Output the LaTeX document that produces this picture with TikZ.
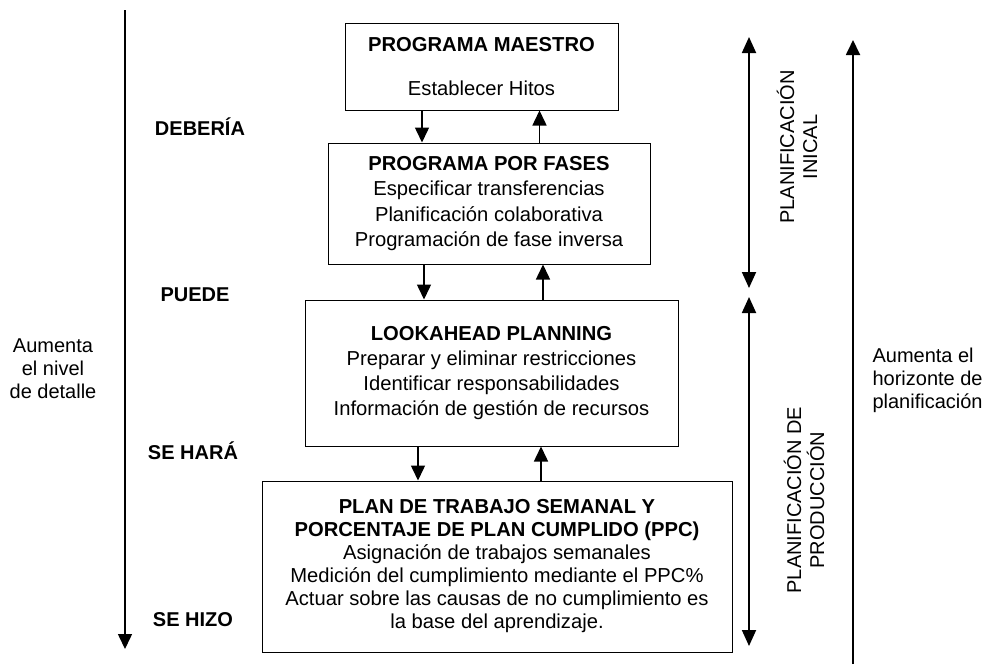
\documentclass[tikz,border=0pt]{standalone}
\usepackage{fontspec}
\setmainfont{Liberation Sans}
\usetikzlibrary{arrows.meta}
\tikzset{
  box/.style={draw=black, line width=1pt, align=center, inner sep=0pt, font=\fontsize{20.2}{24}\selectfont},
  arr/.style={line width=1.5pt, -{Triangle[width=14pt,length=15pt]}},
  darr/.style={line width=1.8pt, {Triangle[width=14pt,length=16pt]}-{Triangle[width=14pt,length=16pt]}},
  lbl/.style={font=\fontsize{20}{23}\selectfont\bfseries},
  txt/.style={font=\fontsize{20}{23}\selectfont, align=center},
}
\begin{document}
\begin{tikzpicture}[x=1pt,y=-1pt]
\useasboundingbox (0,0) rectangle (984,667);
% boxes
\node[box, minimum width=273pt, minimum height=87pt] (b1) at (481.5,66.5)
  {\textbf{PROGRAMA MAESTRO}\\[20pt]Establecer Hitos};
\node[box, minimum width=322pt, minimum height=121pt, font=\fontsize{20.2}{25.5}\selectfont] (b2) at (489,203.5)
  {\textbf{PROGRAMA POR FASES}\\Especificar transferencias\\Planificación colaborativa\\Programación de fase inversa};
\node[box, minimum width=373pt, minimum height=146pt, font=\fontsize{20.2}{25.2}\selectfont] (b3) at (491.5,373)
  {\textbf{LOOKAHEAD PLANNING}\\Preparar y eliminar restricciones\\Identificar responsabilidades\\Información de gestión de recursos};
\node[box, minimum width=470pt, minimum height=171pt, font=\fontsize{20.2}{23}\selectfont] (b4) at (497,566.5)
  {\textbf{PLAN DE TRABAJO SEMANAL Y}\\\textbf{PORCENTAJE DE PLAN CUMPLIDO (PPC)}\\Asignación de trabajos semanales\\Medición del cumplimiento mediante el PPC\%\\Actuar sobre las causas de no cumplimiento es\\la base del aprendizaje.};
% connectors between boxes
\coordinate (d1) at (422,0);
\coordinate (u1) at (539.5,0);
\coordinate (d2) at (424,0);
\coordinate (u2) at (543,0);
\coordinate (d3) at (418,0);
\coordinate (u3) at (541,0);
\draw[arr] (b1.south -| d1) -- (b2.north -| d1);
\draw[arr] (b2.north -| u1) -- (b1.south -| u1);
\draw[arr] (b2.south -| d2) -- (b3.north -| d2);
\draw[arr] (b3.north -| u2) -- (b2.south -| u2);
\draw[arr] (b3.south -| d3) -- (b4.north -| d3);
\draw[arr] (b4.north -| u3) -- (b3.south -| u3);
% left arrow and labels
\coordinate (ltop) at (125,10);
\coordinate (lbot) at (125,649);
\draw[arr] (ltop) -- (lbot);
\node[lbl] (deb) at (200,127) {DEBERÍA};
\node[lbl] (pue) at (195,295) {PUEDE};
\node[lbl] (har) at (193,451) {SE HARÁ};
\node[lbl] (hiz) at (193,620) {SE HIZO};
\node[txt] (detalle) at (53,369) {Aumenta\\el nivel\\de detalle};
% right arrows
\coordinate (ia) at (749,37);
\coordinate (ib) at (749,288);
\coordinate (pa) at (749,297);
\coordinate (pb) at (749,646);
\draw[darr] (ia) -- (ib);
\draw[darr] (pa) -- (pb);
\node[txt, rotate=90] (ini) at (797,147) {PLANIFICACIÓN\\INICAL};
\node[txt, rotate=90] (prod) at (804,500) {PLANIFICACIÓN DE\\PRODUCCIÓN};
\coordinate (hbot) at (853,664);
\coordinate (htop) at (853,40);
\draw[arr, line width=1.8pt] (hbot) -- (htop);
\node[txt, align=left, anchor=west] (hor) at (869,380) {Aumenta el\\horizonte de\\planificación};
\end{tikzpicture}
\end{document}
